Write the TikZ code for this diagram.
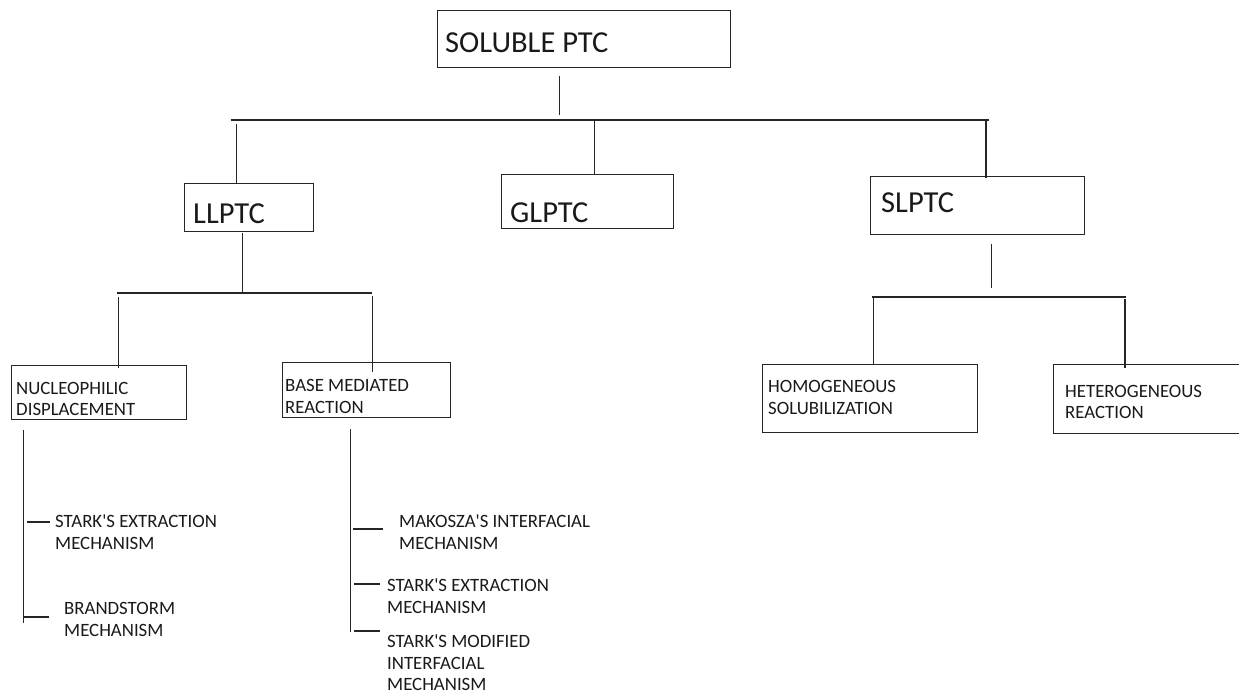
\documentclass[tikz,border=0pt]{standalone}
\usepackage{fontspec}
\setmainfont{Carlito}
\newcommand{\apo}{\textquotesingle}
\tikzset{
  box/.style={draw=black!85, line width=1.4pt, anchor=north west, inner sep=0pt},
  big/.style={anchor=west, inner sep=0pt, font=\fontsize{30.5}{36}\selectfont, text=black!90},
  small/.style={anchor=west, inner sep=0pt, align=left, font=\fontsize{18.8}{21.6}\selectfont, text=black!90},
  ln/.style={draw=black!85, line width=1.4pt}
}
\begin{document}
\begin{tikzpicture}[x=1pt,y=-1pt]
\useasboundingbox (0,0) rectangle (1239,693);
% boxes
\node[box, minimum width=293pt, minimum height=57pt] (sol) at (437,10) {};
\node[box, minimum width=129pt, minimum height=48pt] (ll) at (184,183) {};
\node[box, minimum width=172pt, minimum height=54pt] (gl) at (501,174) {};
\node[box, minimum width=214pt, minimum height=58pt] (sl) at (870,176) {};
\node[box, minimum width=175pt, minimum height=54pt] (nuc) at (11,365) {};
\node[box, minimum width=168pt, minimum height=55pt] (base) at (282,362) {};
\node[box, minimum width=215pt, minimum height=68pt] (homo) at (762,364) {};
\node[box, minimum width=200pt, minimum height=69pt] (hetero) at (1053,364) {};
% texts
\node[big] (solt) at (445,43) {SOLUBLE PTC};
\node[big] (llt) at (193,214) {LLPTC};
\node[big] (glt) at (510,213) {GLPTC};
\node[big] (slt) at (881,203) {SLPTC};
\node[small] (nuct) at (16,399) {NUCLEOPHILIC\\DISPLACEMENT};
\node[small] (baset) at (285,396.5) {BASE MEDIATED\\REACTION};
\node[small] (homot) at (768,397.5) {HOMOGENEOUS\\SOLUBILIZATION};
\node[small] (hetet) at (1065,402) {HETEROGENEOUS\\REACTION};
\node[small] (s1) at (55,532) {STARK\apo S EXTRACTION\\MECHANISM};
\node[small] (br) at (64,619.5) {BRANDSTORM\\MECHANISM};
\node[small] (mak) at (399,532) {MAKOSZA\apo S INTERFACIAL\\MECHANISM};
\node[small] (s2) at (387,596.5) {STARK\apo S EXTRACTION\\MECHANISM};
\node[small] (s3) at (387,663) {STARK\apo S MODIFIED\\INTERFACIAL\\MECHANISM};
% connector coordinates
\coordinate (solA) at (559.5,76);
\coordinate (solB) at (559.5,115);
\coordinate (busL) at (230.5,120);
\coordinate (busR) at (989,120);
\coordinate (llTop) at (236.5,124);
\coordinate (llBot) at (236.5,183);
\coordinate (glTop) at (594.5,120);
\coordinate (glBot) at (594.5,174);
\coordinate (slTop) at (986,120);
\coordinate (slBot) at (986,178);
% LLPTC subtree
\coordinate (llA) at (242.5,233);
\coordinate (llB) at (242.5,293);
\coordinate (bus2L) at (117,293);
\coordinate (bus2R) at (372,293);
\coordinate (nucTop) at (118.5,297);
\coordinate (nucBot) at (118.5,368);
\coordinate (baseTop) at (372.5,296);
\coordinate (baseBot) at (372.5,372);
% SLPTC subtree
\coordinate (slA) at (991.5,244);
\coordinate (slB) at (991.5,288);
\coordinate (bus3L) at (871.5,297);
\coordinate (bus3R) at (1126,297);
\coordinate (homoTop) at (873.5,297);
\coordinate (homoBot) at (873.5,364);
\coordinate (hetTop) at (1125,299);
\coordinate (hetBot) at (1125,368);
% mechanism rails
\coordinate (railLa) at (23.5,430);
\coordinate (railLb) at (23.5,623);
\coordinate (t1a) at (27,522);
\coordinate (t1b) at (50,522);
\coordinate (t2a) at (23.5,617);
\coordinate (t2b) at (49,617);
\coordinate (railRa) at (350.5,429);
\coordinate (railRb) at (350.5,632);
\coordinate (t3a) at (353,529);
\coordinate (t3b) at (383,529);
\coordinate (t4a) at (354,584);
\coordinate (t4b) at (380,584);
\coordinate (t5a) at (354,631);
\coordinate (t5b) at (380,631);
% lines
\draw[ln] (solA) -- (solB);
\draw[ln] (busL) -- (busR);
\draw[ln] (llTop) -- (llBot);
\draw[ln] (glTop) -- (glBot);
\draw[ln] (slTop) -- (slBot);
\draw[ln] (llA) -- (llB);
\draw[ln] (bus2L) -- (bus2R);
\draw[ln] (nucTop) -- (nucBot);
\draw[ln] (baseTop) -- (baseBot);
\draw[ln] (slA) -- (slB);
\draw[ln] (bus3L) -- (bus3R);
\draw[ln] (homoTop) -- (homoBot);
\draw[ln] (hetTop) -- (hetBot);
\draw[ln] (railLa) -- (railLb);
\draw[ln] (t1a) -- (t1b);
\draw[ln] (t2a) -- (t2b);
\draw[ln] (railRa) -- (railRb);
\draw[ln] (t3a) -- (t3b);
\draw[ln] (t4a) -- (t4b);
\draw[ln] (t5a) -- (t5b);
\end{tikzpicture}
\end{document}
